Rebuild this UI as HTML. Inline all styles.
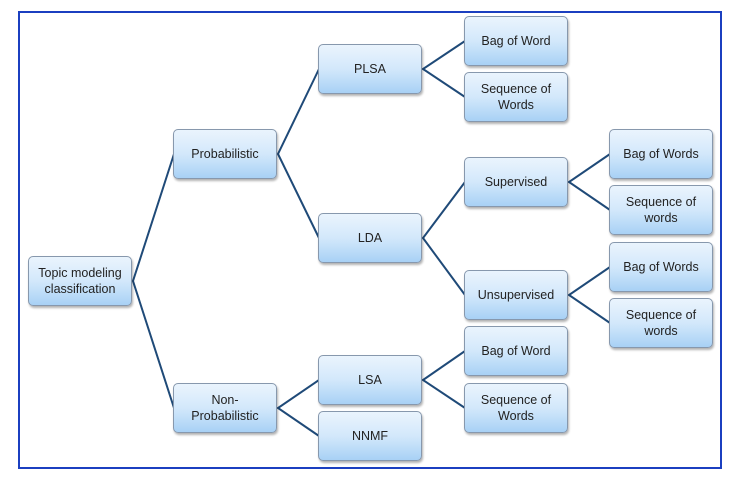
<!DOCTYPE html>
<html><head><style>
body{margin:0;width:745px;height:482px;background:#fff;position:relative;overflow:hidden;font-family:"Liberation Sans",sans-serif;}
.frame{position:absolute;left:18px;top:11px;width:700px;height:454px;border:2px solid #1b3fc0;}
.n{position:absolute;width:102px;height:48px;border:1px solid #8798ad;border-radius:5px;background:linear-gradient(#eaf4fd,#d3e8fb 50%,#a8d1f5);box-shadow:1px 2px 2px rgba(0,0,0,0.3);display:flex;align-items:center;justify-content:center;text-align:center;font-size:12.5px;line-height:16px;color:#222;}
svg{position:absolute;left:0;top:0;}
</style></head><body>
<div class="frame"></div>
<svg width="745" height="482"><g stroke="#1f4a78" stroke-width="2" fill="none">
<polyline points="174,154 133,281 174,408"/>
<polyline points="319,69 278,154 319,238"/>
<polyline points="319,380 278,408 319,436"/>
<polyline points="465,41 423,69 465,97"/>
<polyline points="465,182 423,238 465,295"/>
<polyline points="465,351 423,380 465,408"/>
<polyline points="610,154 569,182 610,210"/>
<polyline points="610,267 569,295 610,323"/>
</g></svg>
<div class="n" style="left:28px;top:256px">Topic modeling<br>classification</div>
<div class="n" style="left:173px;top:129px">Probabilistic</div>
<div class="n" style="left:173px;top:383px">Non-<br>Probabilistic</div>
<div class="n" style="left:318px;top:44px">PLSA</div>
<div class="n" style="left:318px;top:213px">LDA</div>
<div class="n" style="left:318px;top:355px">LSA</div>
<div class="n" style="left:318px;top:411px">NNMF</div>
<div class="n" style="left:464px;top:16px">Bag of Word</div>
<div class="n" style="left:464px;top:72px">Sequence of<br>Words</div>
<div class="n" style="left:464px;top:157px">Supervised</div>
<div class="n" style="left:464px;top:270px">Unsupervised</div>
<div class="n" style="left:464px;top:326px">Bag of Word</div>
<div class="n" style="left:464px;top:383px">Sequence of<br>Words</div>
<div class="n" style="left:609px;top:129px">Bag of Words</div>
<div class="n" style="left:609px;top:185px">Sequence of<br>words</div>
<div class="n" style="left:609px;top:242px">Bag of Words</div>
<div class="n" style="left:609px;top:298px">Sequence of<br>words</div>
</body></html>
